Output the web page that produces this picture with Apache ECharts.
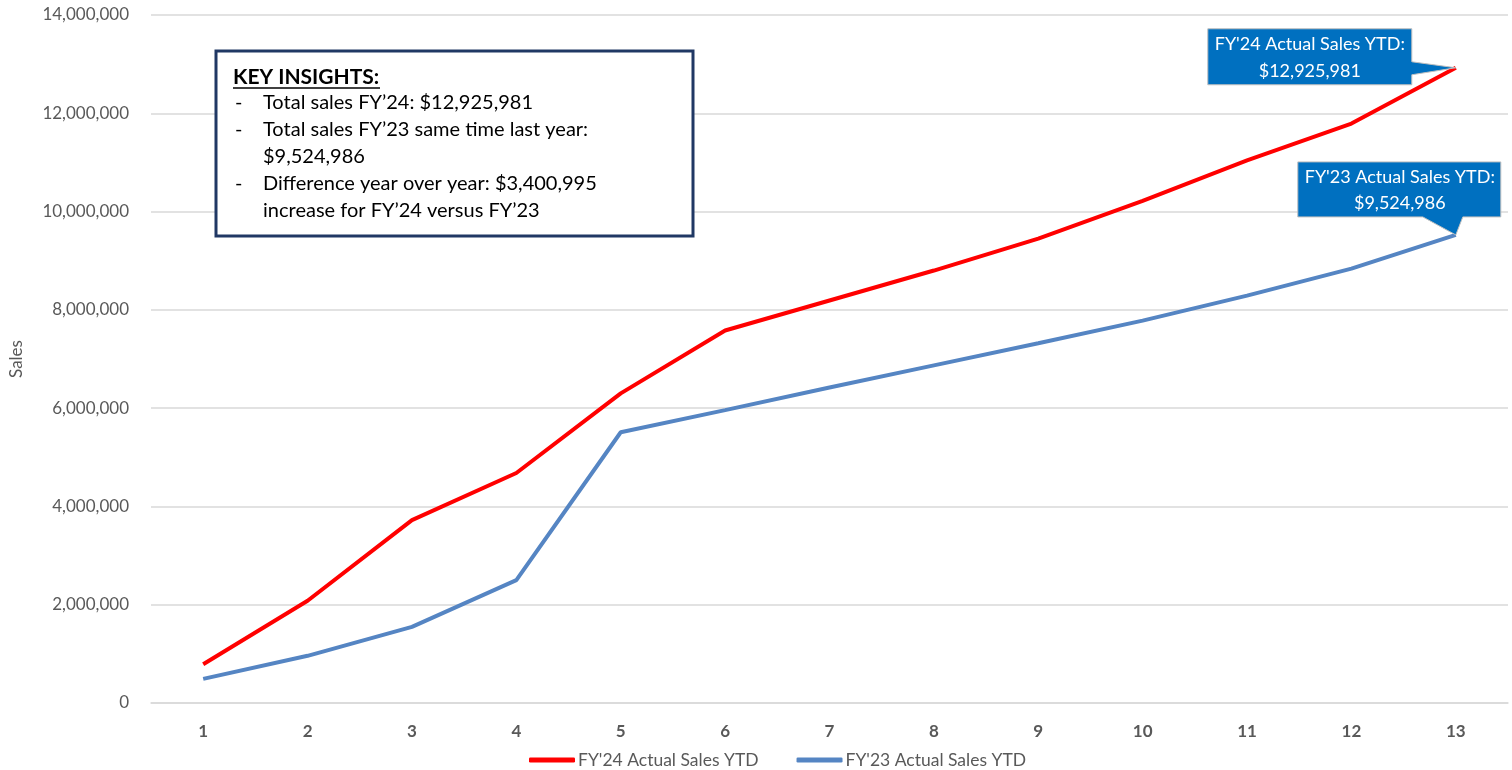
<!DOCTYPE html>
<html>
<head>
<meta charset="utf-8">
<script src="https://cdn.jsdelivr.net/npm/echarts@6/dist/echarts.min.js"></script>
<style>
html,body{margin:0;padding:0;background:#fff;}
#chart{width:1512px;height:770px;}
</style>
</head>
<body>
<div id="chart"></div>
<script>
const categories = ['1','2','3','4','5','6','7','8','9','10','11','12','13'];
const fy24Name = "FY'24 Actual Sales YTD";
const fy23Name = "FY'23 Actual Sales YTD";
const fy24 = [790000, 2080000, 3720000, 4680000, 6300000, 7580000, 8190000, 8800000, 9450000, 10220000, 11040000, 11790000, 12925981];
const fy23 = [490000, 960000, 1550000, 2500000, 5510000, 5960000, 6420000, 6870000, 7320000, 7780000, 8290000, 8840000, 9524986];
const yTicks = { min: 0, max: 14000000, interval: 2000000 };
const insightTitle = 'KEY INSIGHTS:';
const insightLines = [
  ['-', 'Total sales FY\u201924: $12,925,981'],
  ['-', 'Total sales FY\u201923 same time last year:'],
  ['', '$9,524,986'],
  ['-', 'Difference year over year: $3,400,995'],
  ['', 'increase for FY\u201924 versus FY\u201923']
];
const callout24 = ["FY'24 Actual Sales YTD:", '$12,925,981'];
const callout23 = ["FY'23 Actual Sales YTD:", '$9,524,986'];

const FONT = 'Lato';
const chart = echarts.init(document.getElementById('chart'));
chart.setOption({
  animation: false,
  textStyle: { fontFamily: FONT },
  grid: { left: 151, right: 4, top: 15, bottom: 67 },
  legend: {
    top: 746,
    left: 524,
    itemWidth: 46,
    itemHeight: 5,
    itemGap: 38,
    icon: 'roundRect',
    textStyle: { fontSize: 17.5, color: '#595959', fontFamily: FONT, padding: [0, 0, 0, -2] },
    data: [fy24Name, fy23Name]
  },
  xAxis: {
    type: 'category',
    data: categories,
    boundaryGap: true,
    axisLine: { show: true, lineStyle: { color: '#d9d9d9', width: 1.5 } },
    axisTick: { show: false },
    axisLabel: { color: '#595959', fontSize: 17, fontWeight: 'bold', margin: 20 }
  },
  yAxis: {
    type: 'value',
    min: yTicks.min, max: yTicks.max, interval: yTicks.interval,
    name: 'Sales',
    nameLocation: 'middle',
    nameGap: 126,
    nameRotate: 90,
    nameTextStyle: { color: '#595959', fontSize: 17 },
    axisLine: { show: false },
    axisTick: { show: false },
    axisLabel: {
      color: '#595959', fontSize: 17, margin: 22,
      formatter: v => v.toLocaleString('en-US')
    },
    splitLine: { lineStyle: { color: '#d9d9d9', width: 1.5 } }
  },
  series: [
    { name: fy24Name, type: 'line', data: fy24, symbol: 'none',
      lineStyle: { color: '#FF0000', width: 4 }, itemStyle: { color: '#FF0000' } },
    { name: fy23Name, type: 'line', data: fy23, symbol: 'none',
      lineStyle: { color: '#5585C3', width: 4 }, itemStyle: { color: '#5585C3' } }
  ]
});

// Overlays
const p24 = chart.convertToPixel({ seriesIndex: 0 }, [categories.length - 1, fy24[fy24.length - 1]]);
const p23 = chart.convertToPixel({ seriesIndex: 1 }, [categories.length - 1, fy23[fy23.length - 1]]);

function calloutShape(tip, L, R, T, B, pointer) {
  const [x, y] = tip;
  let pts;
  if (pointer === 'right') {
    pts = [[x+L,y+T],[x+R,y+T],[x+R,y-6],[x,y],[x+R,y+7],[x+R,y+B],[x+L,y+B]];
  } else {
    pts = [[x+L,y+T],[x+R,y+T],[x+R,y+B],[x+7,y+B],[x,y],[x-33,y+B],[x+L,y+B]];
  }
  return pts;
}

const graphics = [];
// Key insights box
graphics.push({
  type: 'rect', shape: { x: 216, y: 51, width: 477, height: 185 },
  style: { fill: '#fff', stroke: '#203864', lineWidth: 3 }, z: 10
});
graphics.push({
  type: 'text', x: 233, y: 77, z: 11,
  style: { text: insightTitle, fontFamily: FONT, fontSize: 21, fontWeight: 'bold', fill: '#000', verticalAlign: 'middle' }
});
graphics.push({
  type: 'line', shape: { x1: 233, y1: 88, x2: 380, y2: 88 }, z: 11,
  style: { stroke: '#000', lineWidth: 1.5 }
});
const lineY = [103, 130, 157, 184, 211];
insightLines.forEach((ln, i) => {
  if (ln[0]) graphics.push({ type: 'text', x: 235, y: lineY[i], z: 11,
    style: { text: ln[0], fontFamily: FONT, fontSize: 20, fill: '#000', verticalAlign: 'middle' } });
  graphics.push({ type: 'text', x: 263, y: lineY[i], z: 11,
    style: { text: ln[1], fontFamily: FONT, fontSize: 20, fill: '#000', verticalAlign: 'middle' } });
});

// Callout FY24
graphics.push({
  type: 'polygon', z: 10,
  shape: { points: calloutShape(p24, -248, -44, -39, 17, 'right') },
  style: { fill: '#0070C0', stroke: '#BFBFBF', lineWidth: 1 }
});
graphics.push({
  type: 'text', x: p24[0] - 146, y: p24[1] - 10, z: 11,
  style: { text: callout24.join('\n'), fontFamily: FONT, fontSize: 18, fill: '#fff', align: 'center', verticalAlign: 'middle', lineHeight: 27 }
});
// Callout FY23
graphics.push({
  type: 'polygon', z: 10,
  shape: { points: calloutShape(p23, -158, 45, -73, -18, 'down') },
  style: { fill: '#0070C0', stroke: '#BFBFBF', lineWidth: 1 }
});
graphics.push({
  type: 'text', x: p23[0] - 56, y: p23[1] - 45, z: 11,
  style: { text: callout23.join('\n'), fontFamily: FONT, fontSize: 18, fill: '#fff', align: 'center', verticalAlign: 'middle', lineHeight: 26 }
});

chart.setOption({ graphic: graphics });
</script>
</body>
</html>
